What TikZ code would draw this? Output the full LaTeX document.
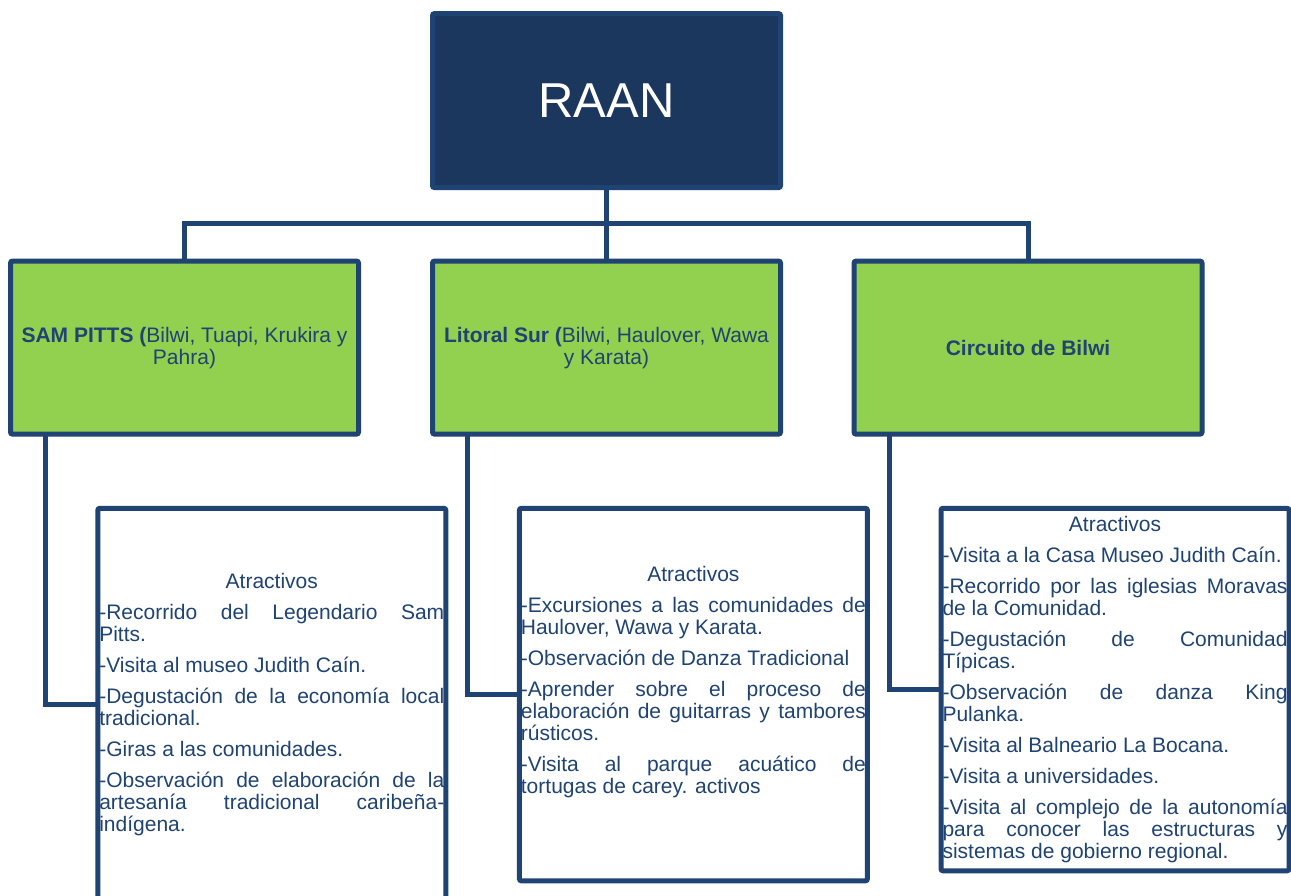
\documentclass[tikz,border=0pt]{standalone}
\usepackage{fontspec}
\setmainfont{Liberation Sans}
\usetikzlibrary{positioning}
\definecolor{raanazul}{HTML}{1B375E}
\definecolor{marino}{HTML}{1F4373}
\definecolor{verde}{HTML}{92D050}
\tolerance=10000 \hbadness=10000 \hfuzz=30pt
\newcommand{\atractivos}{\setlength{\parskip}{9pt}{\centering Atractivos\par}}
\begin{document}
\begin{tikzpicture}[x=1pt, y=-1pt, text=marino,
	raan/.style={draw=marino, fill=raanazul, line width=5pt, rounded corners=2pt, outer sep=0pt, minimum width=348pt, minimum height=174pt, text=white, font=\fontsize{49}{56}\selectfont},
	zona/.style={draw=marino, fill=verde, line width=5pt, rounded corners=2pt, outer sep=0pt, minimum width=348pt, minimum height=173pt, align=center, font=\fontsize{21}{22}\selectfont},
	lista/.style={draw=marino, fill=white, line width=5pt, rounded corners=2pt, outer sep=0pt, anchor=north, text width=345pt, inner xsep=1.5pt, align=justify, font=\fontsize{21}{22}\selectfont},
	enlace/.style={draw=marino, line width=5pt}]
	\useasboundingbox (0,0) rectangle (1291,895);
	\node[raan] (raan) at (606.5,100.6) {RAAN};
	\node[zona] (sampitts) at (184.5,347.6) {\textbf{SAM PITTS (}Bilwi, Tuapi, Krukira y\\ Pahra)};
	\node[zona] (litoral) at (606.5,347.6) {\textbf{Litoral Sur (}Bilwi, Haulover, Wawa\\ y Karata)};
	\node[zona] (circuito) at (1028,347.6) {\textbf{Circuito de Bilwi}};
	\node[lista, minimum height=392pt] (atr1) at (271.8,508.3) {\atractivos
		-Recorrido del Legendario Sam\linebreak Pitts.\par
		-Visita al museo Judith Caín.\par
		-Degustación de la economía local\linebreak tradicional.\par
		-Giras a las comunidades.\par
		-Observación de elaboración de la\linebreak artesanía tradicional caribeña-\linebreak indígena.};
	\node[lista, minimum height=372.5pt, text depth=242pt] (atr2) at (693.4,508.3) {\atractivos
		-Excursiones a las comunidades de\linebreak Haulover, Wawa y Karata.\par
		-Observación de Danza Tradicional\par
		-Aprender sobre el proceso de\linebreak elaboración de guitarras y tambores\linebreak rústicos.\par
		-Visita al parque acuático de\linebreak tortugas de carey. activos};
	\node[lista, minimum height=362.5pt] (atr3) at (1115,508.3) {\atractivos
		-Visita a la Casa Museo Judith Caín.\par
		-Recorrido por las iglesias Moravas\linebreak de la Comunidad.\par
		-Degustación de Comunidad\linebreak Típicas.\par
		-Observación de danza King\linebreak Pulanka.\par
		-Visita al Balneario La Bocana.\par
		-Visita a universidades.\par
		-Visita al complejo de la autonomía\linebreak para conocer las estructuras y\linebreak sistemas de gobierno regional.};
	\draw[enlace] (raan.south) -- (litoral.north);
	\draw[enlace] (sampitts.north) -- ++(0,-37.5) -| (circuito.north);
	\draw[enlace] ([xshift=35pt]sampitts.south west) |- (atr1.west);
	\draw[enlace] ([xshift=35pt]litoral.south west) |- (atr2.west);
	\draw[enlace] ([xshift=35pt]circuito.south west) |- (atr3.west);
\end{tikzpicture}
\end{document}
